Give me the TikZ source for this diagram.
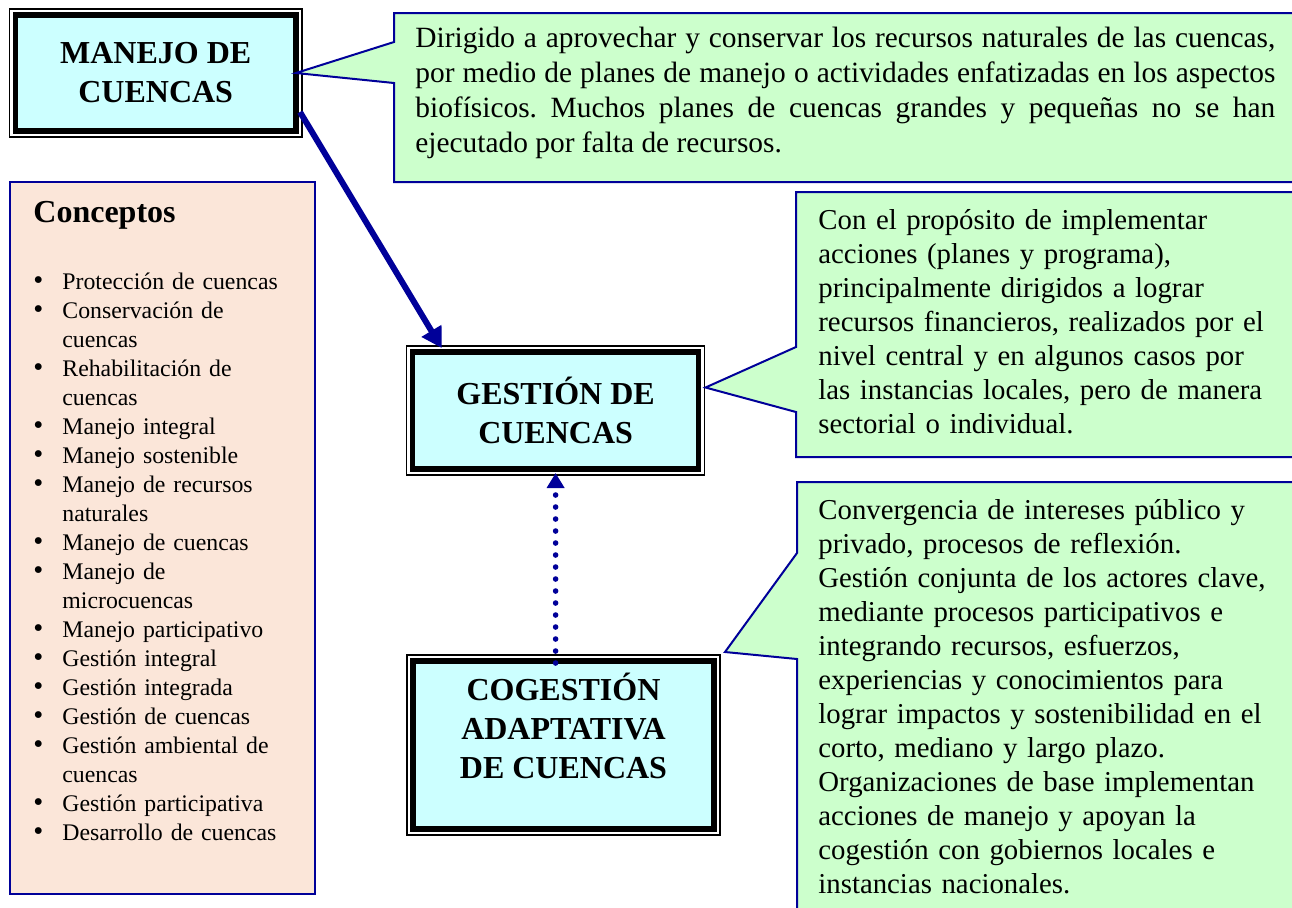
\documentclass[tikz,border=0pt]{standalone}
\usepackage{fontspec}
\setmainfont{Liberation Serif}
\usetikzlibrary{arrows.meta}

\definecolor{celeste}{HTML}{CCFFFF}
\definecolor{verdecito}{HTML}{CCFFCC}
\definecolor{durazno}{HTML}{FBE6D9}
\definecolor{azul}{HTML}{000099}

\newcommand{\bul}{\makebox[14.5pt][l]{\scalebox{1.2}{\textbullet}}}
\newcommand{\sig}{\hspace*{14.5pt}}
\frenchspacing

\begin{document}
\begin{tikzpicture}[x=0.5pt, y=-0.5pt,
  titulo/.style={draw, fill=celeste, line width=2.75pt, outer sep=0pt, inner sep=0pt,
    align=center, font=\bfseries\fontsize{16}{19.5}\selectfont},
  nube/.style={draw=azul, fill=verdecito, line width=1pt},
  texto/.style={anchor=base west, inner sep=0pt, text width=235pt, align=left,
    font=\fontsize{14.4}{17}\selectfont}]

\useasboundingbox (0,0) rectangle (1292,907);

% recuadros
\node[titulo, minimum width=140.3pt, minimum height=58pt] (manejo) at (155.7,73) {MANEJO DE\\CUENCAS};
\node[titulo, minimum width=142.9pt, minimum height=58.5pt] (gestion) at (555.6,410.5) {GESTIÓN DE\\CUENCAS};
\node[titulo, minimum width=150.5pt, minimum height=84pt] (cogestion) at (563.5,745) {COGESTIÓN\\ADAPTATIVA\\DE CUENCAS\\\mbox{}};

\foreach \n in {manejo, gestion, cogestion}
  \draw[line width=0.6pt] ([shift={(-6,-6)}]\n.north west) rectangle ([shift={(6,6)}]\n.south east);

% globos
\draw[nube] (manejo.east) -- (394,42) -- (394,13) -- (1310,13) -- (1310,182) -- (394,182) -- (394,83) -- cycle;
\draw[nube] ([shift={(7,-23)}]gestion.east) -- (796,347) -- (796,192) -- (1310,192) -- (1310,457) -- (796,457) -- (796,412) -- cycle;
\draw[nube] ([shift={(11,-9)}]cogestion.north east) -- (797,553) -- (797,482) -- (1310,482) -- (1310,930) -- (797,930) -- (797,659) -- cycle;

\node[texto, text width=430pt, align=justify, font=\fontsize{14.7}{17.5}\selectfont] (txtmanejo) at (415,47)
  {Dirigido a aprovechar y conservar los recursos naturales de las cuencas,\linebreak
   por medio de planes de manejo o actividades enfatizadas en los aspectos\linebreak
   biofísicos. Muchos planes de cuencas grandes y pequeñas no se han\linebreak
   ejecutado por falta de recursos.};
\node[texto] (txtgestion) at (818,229)
  {Con el propósito de implementar\\ acciones (planes y programa),\\ principalmente dirigidos a lograr\\
   recursos financieros, realizados por el\\ nivel central y en algunos casos por\\
   las instancias locales, pero de manera\\ sectorial o individual.};
\node[texto] (txtcogestion) at (818,519)
  {Convergencia de intereses público y\\ privado, procesos de reflexión.\\
   Gestión conjunta de los actores clave,\\ mediante procesos participativos e\\
   integrando recursos, esfuerzos,\\ experiencias y conocimientos para\\
   lograr impactos y sostenibilidad en el\\ corto, mediano y largo plazo.\\
   Organizaciones de base implementan\\ acciones de manejo y apoyan la\\
   cogestión con gobiernos locales e\\ instancias nacionales.};

% conceptos
\draw[draw=azul, fill=durazno, line width=1pt] (10,182) rectangle (315,894);
\node[anchor=base west, inner sep=0pt, font=\bfseries\fontsize{16}{19}\selectfont] (titconceptos) at (33,222) {Conceptos};
\node[anchor=base west, inner sep=0pt, text width=140pt, align=left, font=\fontsize{11.9}{14.5}\selectfont] (lista) at (33,289)
  {\bul Protección de cuencas\\ \bul Conservación de\\ \sig cuencas\\ \bul Rehabilitación de\\ \sig cuencas\\
   \bul Manejo integral\\ \bul Manejo sostenible\\ \bul Manejo de recursos\\ \sig naturales\\
   \bul Manejo de cuencas\\ \bul Manejo de\\ \sig microcuencas\\ \bul Manejo participativo\\
   \bul Gestión integral\\ \bul Gestión integrada\\ \bul Gestión de cuencas\\
   \bul Gestión ambiental de\\ \sig cuencas\\ \bul Gestión participativa\\ \bul Desarrollo de cuencas};

% flechas
\draw[azul, line width=3pt, -{Triangle[length=10pt,width=11pt]}] ([shift={(4,-19)}]manejo.south east) -- ([shift={(29,-4)}]gestion.north west);
\draw[azul, line width=2.8pt, line cap=round, dash pattern=on 0pt off 6pt, -{Triangle[length=7.5pt,width=8.5pt]}]
  ([yshift=-1pt]cogestion.north -| gestion.south) -- ([yshift=-2pt]gestion.south);

\end{tikzpicture}
\end{document}
